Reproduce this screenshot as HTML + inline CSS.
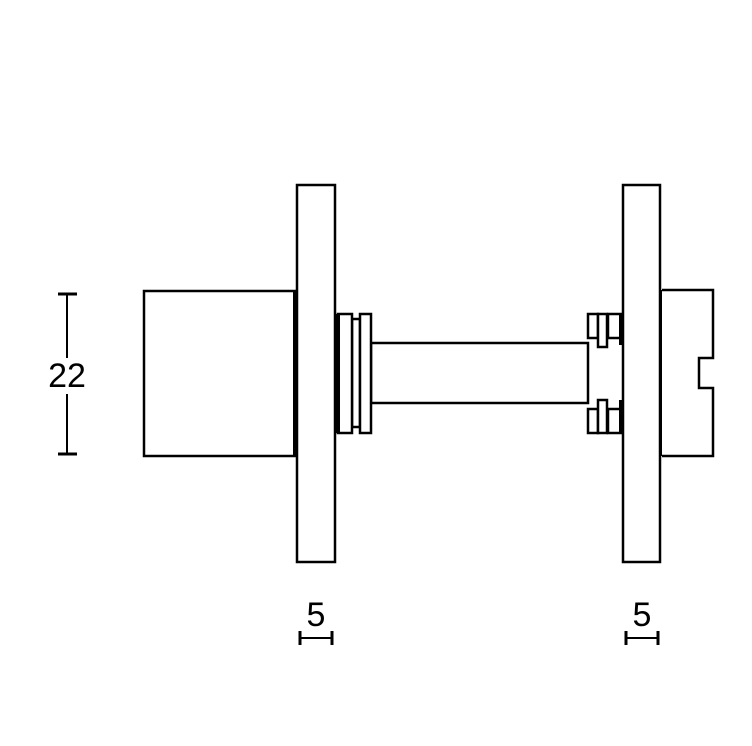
<!DOCTYPE html>
<html><head><style>body{margin:0;background:#fff}</style></head><body>
<svg width="752" height="741" viewBox="0 0 752 741" xmlns="http://www.w3.org/2000/svg">
<g fill="#fff" stroke="#000" stroke-width="2.5">
<rect x="144" y="291" width="151" height="165"/>
<rect x="297" y="185" width="38" height="377"/>
<rect x="623" y="185" width="37" height="377"/>
<line x1="295" y1="291" x2="295" y2="456" stroke-width="4"/>
<line x1="662" y1="290" x2="662" y2="456" stroke-width="4"/>
<path d="M662 290 H713 V358 H699 V388 H713 V456 H662"/>
<rect x="371" y="343" width="217" height="60"/>
<rect x="352" y="319" width="8" height="108"/>
<rect x="338" y="314" width="14" height="119"/>
<rect x="360" y="314" width="11" height="119"/>
<line x1="338" y1="314" x2="338" y2="433" stroke-width="4"/>
<rect x="588" y="314" width="10" height="24"/>
<rect x="598" y="314" width="9" height="33"/>
<rect x="608" y="314" width="14" height="24"/>
<rect x="588" y="409" width="10" height="24"/>
<rect x="598" y="400" width="9" height="33"/>
<rect x="608" y="409" width="14" height="24"/>
<line x1="621" y1="314" x2="621" y2="345" stroke-width="4"/>
<line x1="621" y1="400" x2="621" y2="433" stroke-width="4"/>
</g>
<g stroke="#000" stroke-width="2" fill="none">
<line x1="67" y1="294" x2="67" y2="358"/>
<line x1="67" y1="394" x2="67" y2="454"/>
<line x1="58" y1="294" x2="77" y2="294" stroke-width="3"/>
<line x1="58" y1="454" x2="77" y2="454" stroke-width="3"/>
<line x1="300" y1="638" x2="332" y2="638"/>
<line x1="300" y1="631" x2="300" y2="645" stroke-width="3"/>
<line x1="332" y1="631" x2="332" y2="645" stroke-width="3"/>
<line x1="626" y1="638" x2="658" y2="638"/>
<line x1="626" y1="631" x2="626" y2="645" stroke-width="3"/>
<line x1="658" y1="631" x2="658" y2="645" stroke-width="3"/>
</g>
<g font-family="Liberation Sans, sans-serif" font-size="34" text-anchor="middle" fill="#000">
<text x="67" y="387">22</text>
<text x="316" y="626">5</text>
<text x="642" y="626">5</text>
</g>
</svg>
</body></html>
